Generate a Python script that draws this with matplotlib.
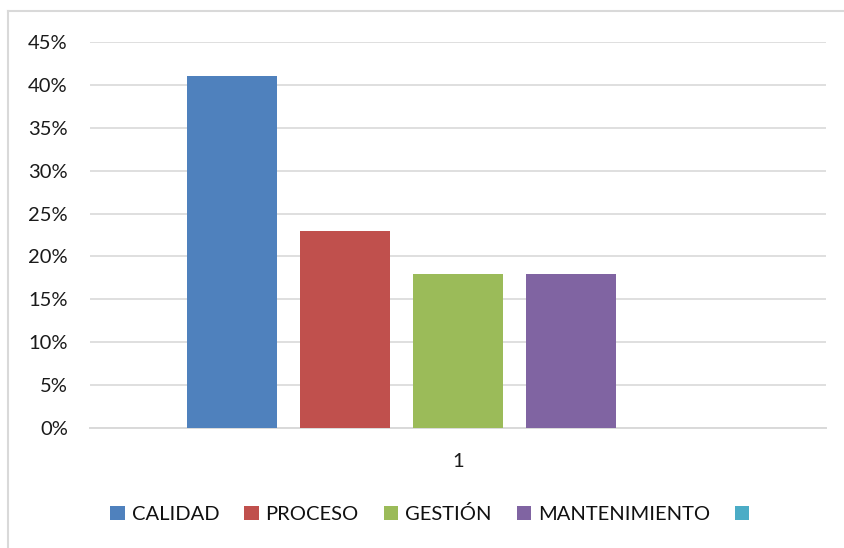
import matplotlib.pyplot as plt
from matplotlib.lines import Line2D
from matplotlib.ticker import FuncFormatter

# --- Datos
categorias = ["1"]
series = ["CALIDAD", "PROCESO", "GESTIÓN", "MANTENIMIENTO", ""]
valores = [0.41, 0.23, 0.18, 0.18, 0.0]
colores = ["#4F81BD", "#C0504D", "#9BBB59", "#8064A2", "#4BACC6"]
yticks = [0.0, 0.05, 0.10, 0.15, 0.20, 0.25, 0.30, 0.35, 0.40, 0.45]

plt.rcParams["font.family"] = ["Lato", "DejaVu Sans"]

W, H = 845, 548
fig = plt.figure(figsize=(W / 100, H / 100), dpi=100)
ax = fig.add_axes([90 / W, 1 - 428 / H, (826 - 90) / W, (428 - 42) / H])

# -- Barras agrupadas (una sola categoria)
paso = 113 / 736
ancho = 90 / 736
n = len(series)
for i, (nombre, val, col) in enumerate(zip(series, valores, colores)):
	ax.bar(0 + (i - (n - 1) / 2) * paso, val, width=ancho, color=col, label=nombre if nombre else " ", zorder=3)

ax.set_xlim(-0.5, 0.5)
ax.set_ylim(0, 0.45)
ax.set_xticks([0])
ax.set_xticklabels(categorias)
ax.set_yticks(yticks)
ax.yaxis.set_major_formatter(FuncFormatter(lambda v, p: "{:.0f}%".format(v * 100)))

# -- Rejilla y ejes
ax.grid(axis="y", color="#D9D9D9", linewidth=1.2, zorder=0)
for s in ["top", "right", "left"]:
	ax.spines[s].set_visible(False)
ax.spines["bottom"].set_color("#D9D9D9")
ax.spines["bottom"].set_linewidth(1.4)
ax.tick_params(axis="both", length=0, labelsize=14.5)
ax.tick_params(axis="y", pad=16)
ax.tick_params(axis="x", pad=18)
for t in ax.get_yticklabels() + ax.get_xticklabels():
	t.set_color("#1a1a1a")

# -- Leyenda
fig.legend(loc="center", bbox_to_anchor=(436 / W, 1 - 514 / H), ncol=5, frameon=False,
	fontsize=14.5, handlelength=0.7, handleheight=0.7, handletextpad=0.35,
	columnspacing=1.25, borderaxespad=0, labelcolor="#111111")

# -- Marco parcial del grafico
fig.add_artist(Line2D([8 / W, 8 / W], [0, 1 - 11 / H], color="#D9D9D9", linewidth=1.5))
fig.add_artist(Line2D([8 / W, 1], [1 - 11 / H, 1 - 11 / H], color="#D9D9D9", linewidth=1.5))

fig.savefig("out.png", dpi=100)
